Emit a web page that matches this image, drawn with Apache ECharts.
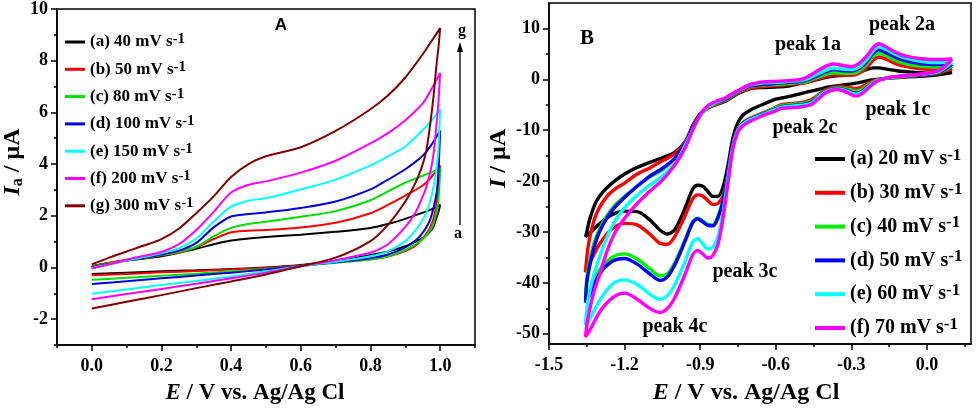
<!DOCTYPE html>
<html><head><meta charset="utf-8">
<script src="https://cdn.jsdelivr.net/npm/echarts@6/dist/echarts.min.js"></script>
<style>html,body{margin:0;padding:0;background:#fff}#c{width:980px;height:410px}</style>
</head><body><div id="c"></div>
<script>
// ---------- Panel A data ----------
const namesA = ['(a) 40 mV s-1','(b) 50 mV s-1','(c) 80 mV s-1','(d) 100 mV s-1','(e) 150 mV s-1','(f) 200 mV s-1','(g) 300 mV s-1'];
const colorsA = ['#000000','#ff0000','#00dd00','#0000dd','#00ffff','#ff00ff','#800000'];
const eUpA = [0, 0.05, 0.1, 0.15, 0.2, 0.25, 0.3, 0.35, 0.4, 0.45, 0.5, 0.6, 0.7, 0.8, 0.85, 0.9, 0.95, 0.975, 1.0];
const upA_a = [0.05,0.17,0.27,0.34,0.43,0.57,0.72,0.9,1.04,1.12,1.18,1.27,1.38,1.53,1.68,1.88,2.12,2.25,2.42];
const upA_b = [0.05,0.18,0.3,0.37,0.47,0.57,0.78,1.1,1.36,1.42,1.45,1.55,1.73,2.1,2.42,2.78,3.17,3.5,3.94];
const upA_c = [0.03,0.15,0.27,0.37,0.48,0.6,0.8,1.2,1.53,1.68,1.77,1.96,2.18,2.6,2.94,3.28,3.55,3.68,3.84];
const upA_d = [0.0,0.13,0.27,0.38,0.5,0.65,0.95,1.55,1.97,2.07,2.13,2.3,2.55,3.02,3.4,3.8,4.32,4.75,5.3];
const upA_e = [-0.02,0.12,0.27,0.4,0.55,0.75,1.12,1.78,2.35,2.58,2.68,3.02,3.4,3.95,4.3,4.68,5.32,5.68,6.13];
const upA_f = [-0.04,0.12,0.3,0.45,0.6,0.9,1.45,2.15,2.9,3.2,3.33,3.67,4.13,4.8,5.2,5.7,6.35,6.9,7.53];
const upA_g = [0.12,0.38,0.62,0.85,1.1,1.5,2.1,2.75,3.5,4.0,4.3,4.65,5.28,6.12,6.65,7.35,8.25,8.75,9.26];
const eLoA = [0.995, 0.99, 0.98, 0.97, 0.96, 0.95, 0.93, 0.9, 0.85, 0.8, 0.7, 0.6, 0.5, 0.4, 0.3, 0.2, 0.1, 0.0];
const loA_a = [2.15,1.95,1.55,1.38,1.25,1.15,1.0,0.82,0.62,0.48,0.25,0.1,0.0,-0.06,-0.11,-0.15,-0.2,-0.25];
const loA_b = [3.2,2.5,1.85,1.52,1.3,1.12,0.85,0.63,0.42,0.32,0.2,0.08,-0.02,-0.08,-0.14,-0.19,-0.25,-0.3];
const loA_c = [2.6,2.2,1.65,1.42,1.25,1.1,0.9,0.68,0.43,0.31,0.18,0.06,-0.06,-0.15,-0.24,-0.32,-0.4,-0.48];
const loA_d = [3.7,2.9,2.25,1.8,1.55,1.35,1.05,0.78,0.5,0.36,0.2,0.06,-0.08,-0.2,-0.31,-0.42,-0.53,-0.64];
const loA_e = [4.6,3.9,3.05,2.5,2.1,1.85,1.45,1.02,0.62,0.43,0.22,0.05,-0.15,-0.35,-0.52,-0.68,-0.85,-1.02];
const loA_f = [6.4,5.6,4.3,3.6,3.1,2.75,2.15,1.57,0.9,0.58,0.28,0.05,-0.2,-0.42,-0.63,-0.83,-1.03,-1.23];
const loA_g = [8.5,7.9,6.5,5.4,4.5,4.0,3.3,2.55,1.65,1.02,0.38,0.05,-0.27,-0.54,-0.8,-1.07,-1.33,-1.59];
const xTicksA = [0, 0.2, 0.4, 0.6, 0.8, 1.0];
const xMinorA = [-0.1, 0.1, 0.3, 0.5, 0.7, 0.9, 1.1];
const yTicksA = [-2, 0, 2, 4, 6, 8, 10];
const yMinorA = [-3, -1, 1, 3, 5, 7, 9];

// ---------- Panel B data ----------
const namesB = ['(a) 20 mV s-1','(b) 30 mV s-1','(c) 40 mV s-1','(d) 50 mV s-1','(e) 60 mV s-1','(f) 70 mV s-1'];
const colorsB = ['#000000','#ff0000','#00ee00','#0000ff','#00ffff','#ff00ff'];
const eCathB = [0.1,0.05,0,-0.05,-0.1,-0.15,-0.2,-0.23,-0.26,-0.28,-0.3,-0.33,-0.36,-0.4,-0.43,-0.46,-0.5,-0.55,-0.58,-0.6,-0.65,-0.7,-0.73,-0.75,-0.77,-0.79,-0.81,-0.83,-0.85,-0.87,-0.89,-0.91,-0.93,-0.96,-1.0,-1.03,-1.06,-1.1,-1.15,-1.2,-1.25,-1.3,-1.34,-1.355];
const cathB_a = [1.35,0.95,0.7,0.55,0.4,0.25,0.0,-0.2,-0.55,-0.75,-0.9,-1.1,-1.3,-1.6,-2.0,-2.3,-2.8,-3.4,-3.7,-3.9,-4.9,-6.0,-7.0,-8.5,-11.5,-17.0,-21.3,-23.0,-23.0,-22.0,-21.0,-20.8,-21.6,-25.3,-29.5,-30.4,-29.6,-27.6,-26.0,-25.9,-26.6,-28.4,-30.3,-30.9];
const cathB_b = [2.1,1.3,0.9,0.7,0.5,0.3,-0.1,-0.7,-1.5,-1.8,-1.7,-1.5,-1.5,-2.0,-3.0,-4.0,-4.6,-4.8,-5.0,-5.5,-6.6,-7.6,-8.5,-9.7,-13.0,-19.0,-23.0,-24.4,-24.6,-23.8,-22.9,-22.7,-23.5,-26.8,-30.8,-32.4,-32.2,-30.4,-28.6,-28.3,-29.4,-32.4,-36.3,-37.9];
const cathB_c = [2.6,1.4,1.0,0.75,0.55,0.3,-0.2,-1.0,-2.0,-2.3,-2.1,-1.8,-1.7,-2.2,-3.2,-4.3,-4.8,-5.0,-5.2,-5.6,-6.7,-7.7,-8.6,-9.8,-13.0,-18.5,-23.8,-27.0,-28.6,-28.5,-27.8,-27.3,-28.0,-31.5,-36.0,-38.2,-38.6,-37.2,-35.3,-34.3,-35.0,-37.5,-41.5,-42.8];
const cathB_d = [3.0,1.5,1.0,0.8,0.6,0.35,-0.3,-1.3,-2.4,-2.7,-2.5,-2.0,-1.8,-2.3,-3.4,-4.5,-5.0,-5.2,-5.4,-5.8,-6.8,-7.8,-8.7,-9.9,-13.0,-18.5,-24.0,-27.3,-28.8,-28.7,-28.0,-27.4,-28.2,-31.8,-36.4,-38.8,-39.5,-38.2,-36.3,-35.2,-35.8,-38.3,-42.5,-43.8];
const cathB_e = [3.4,1.6,1.1,0.85,0.6,0.35,-0.3,-1.4,-2.6,-2.9,-2.7,-2.1,-1.9,-2.4,-3.5,-4.7,-5.1,-5.3,-5.5,-5.9,-6.9,-7.9,-8.8,-10.0,-13.2,-19.5,-26.5,-31.0,-33.0,-33.3,-32.3,-31.3,-32.0,-35.8,-40.3,-42.5,-43.2,-42.2,-40.3,-39.4,-40.3,-43.5,-47.3,-48.3];
const cathB_f = [4.0,1.8,1.2,0.9,0.65,0.4,-0.4,-1.6,-2.9,-3.3,-3.0,-2.3,-2.0,-2.6,-3.8,-5.0,-5.4,-5.6,-5.7,-6.2,-7.1,-8.2,-9.1,-10.3,-13.6,-20.5,-27.5,-32.5,-34.6,-35.1,-34.3,-33.6,-34.5,-38.3,-42.8,-45.0,-45.8,-45.0,-43.2,-42.0,-43.0,-45.8,-49.5,-50.6];
const eAnB = [-1.35,-1.34,-1.32,-1.3,-1.27,-1.24,-1.2,-1.15,-1.1,-1.05,-1.0,-0.96,-0.93,-0.9,-0.87,-0.84,-0.8,-0.75,-0.7,-0.65,-0.6,-0.55,-0.5,-0.47,-0.44,-0.4,-0.37,-0.33,-0.3,-0.27,-0.24,-0.21,-0.19,-0.16,-0.12,-0.08,-0.03,0.03,0.1];
const anB_a = [-30.0,-27.8,-24.8,-23.0,-21.3,-20.0,-18.6,-17.3,-16.3,-15.4,-14.3,-12.3,-9.2,-6.8,-5.6,-5.0,-4.3,-2.8,-1.8,-1.6,-1.5,-1.3,-0.8,-0.5,-0.1,0.4,0.65,0.8,1.0,1.4,1.9,2.25,2.25,2.0,1.7,1.5,1.3,1.2,1.35];
const anB_b = [-35.0,-31.5,-27.5,-25.2,-23.0,-21.6,-20.4,-18.6,-17.4,-16.0,-14.6,-12.4,-9.5,-7.0,-5.7,-5.0,-4.2,-2.7,-1.7,-1.4,-1.2,-1.0,-0.8,-0.5,0.0,0.6,0.9,0.8,0.8,1.2,2.3,3.9,4.4,3.9,3.0,2.5,2.1,1.9,2.1];
const anB_c = [-39.0,-36.0,-32.0,-29.5,-26.8,-24.8,-23.0,-21.0,-19.2,-17.8,-15.6,-12.6,-9.6,-7.0,-5.5,-4.8,-4.0,-2.5,-1.4,-1.1,-1.0,-0.8,-0.6,-0.3,0.3,1.0,1.3,1.2,1.2,1.6,2.9,4.7,5.1,4.6,3.6,3.0,2.6,2.4,2.6];
const anB_d = [-40.0,-37.0,-32.8,-30.0,-27.2,-25.2,-23.2,-21.0,-19.0,-17.5,-15.5,-12.6,-9.6,-7.0,-5.4,-4.7,-3.9,-2.4,-1.3,-1.0,-0.8,-0.6,-0.4,0.0,0.6,1.5,1.9,1.7,1.6,2.1,3.4,5.3,5.8,5.2,4.2,3.6,3.1,2.9,3.0];
const anB_e = [-45.0,-42.0,-38.0,-35.0,-31.0,-28.0,-25.2,-22.8,-20.8,-19.0,-16.6,-13.0,-10.0,-7.2,-5.4,-4.6,-3.7,-2.3,-1.1,-0.7,-0.6,-0.4,-0.2,0.2,0.9,1.8,2.2,2.0,1.9,2.4,3.8,5.8,6.4,5.8,4.8,4.1,3.6,3.3,3.4];
const anB_f = [-48.3,-45.5,-41.5,-38.5,-33.8,-30.3,-27.3,-24.4,-22.0,-19.8,-16.8,-13.5,-10.0,-7.0,-5.2,-4.4,-3.6,-2.2,-1.0,-0.5,-0.4,-0.25,0.0,0.6,1.5,2.6,3.0,2.7,2.5,3.1,4.5,6.4,7.0,6.3,5.2,4.5,4.1,3.9,4.0];
const xTicksB = [-1.5, -1.2, -0.9, -0.6, -0.3, 0.0];
const xMinorB = [-1.35, -1.05, -0.75, -0.45, -0.15, 0.15];
const yTicksB = [-50, -40, -30, -20, -10, 0, 10];
const yMinorB = [-45, -35, -25, -15, -5, 5];
const peakLabels = ['peak 2a','peak 1a','peak 1c','peak 2c','peak 3c','peak 4c'];

// ---------- build ----------
const FONT = "'Liberation Serif','Times New Roman',serif";
function loop(e1, v1, e2, v2) {
  return e1.map((e, i) => [e, v1[i]]).concat(e2.map((e, i) => [e, v2[i]]));
}
const upA = [upA_a, upA_b, upA_c, upA_d, upA_e, upA_f, upA_g];
const loA = [loA_a, loA_b, loA_c, loA_d, loA_e, loA_f, loA_g];
const cathB = [cathB_a, cathB_b, cathB_c, cathB_d, cathB_e, cathB_f];
const anB = [anB_a, anB_b, anB_c, anB_d, anB_e, anB_f];

const series = [];
namesA.forEach((n, i) => series.push({
  name: n, type: 'line', xAxisIndex: 0, yAxisIndex: 0, showSymbol: false, symbol: 'none',
  smooth: 0.3, color: colorsA[i], lineStyle: { width: 2, color: colorsA[i] },
  data: loop(eUpA, upA[i], eLoA, loA[i])
}));
namesB.forEach((n, i) => series.push({
  name: n, type: 'line', xAxisIndex: 2, yAxisIndex: 2, showSymbol: false, symbol: 'none',
  smooth: 0.3, color: colorsB[i], lineStyle: { width: 3.4, color: colorsB[i] },
  data: loop(eCathB, cathB[i], eAnB, anB[i])
}));

const lblStyle = { color: '#000', fontFamily: FONT, fontWeight: 'bold', fontSize: 18 };
function mainX(grid, min, max, ticks, name, pad, fs) {
  return { gridIndex: grid, type: 'value', min: min, max: max, position: 'bottom',
    axisLine: { onZero: false, lineStyle: { color: '#000', width: 1.5 } },
    axisTick: { customValues: ticks, length: 6, lineStyle: { color: '#000', width: 1.5 } },
    axisLabel: Object.assign({ customValues: ticks, margin: 12, formatter: v => Number(v).toFixed(1) }, lblStyle),
    splitLine: { show: false },
    name: name, nameLocation: 'middle', nameGap: 37,
    nameTextStyle: { padding: pad, rich: {
      i: { fontFamily: FONT, fontWeight: 'bold', fontStyle: 'italic', fontSize: fs, color: '#000' },
      n: { fontFamily: FONT, fontWeight: 'bold', fontSize: fs, color: '#000' } } }
  };
}
function minorX(grid, min, max, ticks) {
  return { gridIndex: grid, type: 'value', min: min, max: max, position: 'bottom',
    axisLine: { show: false, onZero: false }, axisLabel: { show: false }, splitLine: { show: false },
    axisTick: { customValues: ticks, length: 3, lineStyle: { color: '#000', width: 1.5 } } };
}
function mainY(grid, min, max, ticks, name, gap, pad) {
  return { gridIndex: grid, type: 'value', min: min, max: max, position: 'left',
    axisLine: { onZero: false, lineStyle: { color: '#000', width: 1.5 } },
    axisTick: { customValues: ticks, length: 6, lineStyle: { color: '#000', width: 1.5 } },
    axisLabel: Object.assign({ customValues: ticks, margin: 9, formatter: v => String(Math.round(v)) }, lblStyle),
    splitLine: { show: false },
    name: name, nameLocation: 'middle', nameRotate: 90, nameGap: gap,
    nameTextStyle: { padding: pad, rich: {
      i: { fontFamily: FONT, fontWeight: 'bold', fontStyle: 'italic', fontSize: 24, color: '#000', lineHeight: 26 },
      sub: { fontFamily: FONT, fontWeight: 'bold', fontSize: 16, color: '#000', lineHeight: 10, verticalAlign: 'bottom' },
      n: { fontFamily: FONT, fontWeight: 'bold', fontSize: 24, color: '#000', lineHeight: 26 } } }
  };
}
function minorY(grid, min, max, ticks) {
  return { gridIndex: grid, type: 'value', min: min, max: max, position: 'left',
    axisLine: { show: false, onZero: false }, axisLabel: { show: false }, splitLine: { show: false },
    axisTick: { customValues: ticks, length: 3, lineStyle: { color: '#000', width: 1.5 } } };
}
function legendFmt(name) {
  const base = name.replace(/-1$/, '');
  return '{n|' + base + '}{s|-1}';
}

const option = {
  animation: false,
  backgroundColor: '#fff',
  grid: [
    { left: 53, top: 7, width: 422, height: 341, show: true, borderColor: '#000', borderWidth: 1.5 },
    { left: 549, top: 3, width: 422, height: 344, show: true, borderColor: '#000', borderWidth: 1.5 }
  ],
  xAxis: [
    mainX(0, -0.1, 1.1, xTicksA, '{i|E}{n| / V vs. Ag/Ag Cl}', [0, 22, 0, 0], 23),
    minorX(0, -0.1, 1.1, xMinorA),
    mainX(1, -1.5, 0.175, xTicksB, '{i|E}{n| / V vs. Ag/Ag Cl}', [0, 28, 0, 0], 24),
    minorX(1, -1.5, 0.175, xMinorB)
  ],
  yAxis: [
    mainY(0, -3, 10, yTicksA, '{i|I}{sub|a}{n| / μA}', 29, [0, 0, 0, 30]),
    minorY(0, -3, 10, yMinorA),
    mainY(1, -52, 15, yTicksB, '{i|I}{n| / μA}', 37, [0, 0, 0, 30]),
    minorY(1, -52, 15, yMinorB)
  ],
  legend: [
    { data: namesA, orient: 'vertical', left: 65, top: 32, padding: 0, itemWidth: 20, itemHeight: 3, icon: 'rect',
      itemGap: 8.8, formatter: legendFmt,
      textStyle: { rich: {
        n: { fontFamily: FONT, fontWeight: 'bold', fontSize: 17, color: '#000', lineHeight: 20 },
        s: { fontFamily: FONT, fontWeight: 'bold', fontSize: 15, color: '#000', lineHeight: 6, verticalAlign: 'top' } } } },
    { data: namesB, orient: 'vertical', left: 815, top: 147, padding: 0, itemWidth: 30, itemHeight: 4, icon: 'rect',
      itemGap: 11.8, formatter: legendFmt,
      textStyle: { rich: {
        n: { fontFamily: FONT, fontWeight: 'bold', fontSize: 20, color: '#000', lineHeight: 24 },
        s: { fontFamily: FONT, fontWeight: 'bold', fontSize: 17, color: '#000', lineHeight: 8, verticalAlign: 'top' } } } }
  ],
  graphic: [
    { type: 'text', x: 281, y: 25, style: { text: 'A', font: "bold 17px 'Liberation Sans', Arial, sans-serif", fill: '#000', align: 'center', verticalAlign: 'middle' } },
    { type: 'text', x: 587, y: 39, style: { text: 'B', font: 'bold 21px ' + FONT, fill: '#000', align: 'center', verticalAlign: 'middle' } },
    { type: 'text', x: 462, y: 31, style: { text: 'g', font: 'bold 16px ' + FONT, fill: '#000', align: 'center', verticalAlign: 'middle' } },
    { type: 'text', x: 458, y: 234, style: { text: 'a', font: 'bold 16px ' + FONT, fill: '#000', align: 'center', verticalAlign: 'middle' } },
    { type: 'line', shape: { x1: 460, y1: 225, x2: 460, y2: 50 }, style: { stroke: '#000', lineWidth: 1.3 } },
    { type: 'polygon', shape: { points: [[460, 42], [457, 52], [463, 52]] }, style: { fill: '#000' } },
    { type: 'text', x: 902, y: 25, style: { text: peakLabels[0], font: 'bold 20px ' + FONT, fill: '#000', align: 'center', verticalAlign: 'middle' } },
    { type: 'text', x: 808, y: 45, style: { text: peakLabels[1], font: 'bold 20px ' + FONT, fill: '#000', align: 'center', verticalAlign: 'middle' } },
    { type: 'text', x: 898, y: 110, style: { text: peakLabels[2], font: 'bold 20px ' + FONT, fill: '#000', align: 'center', verticalAlign: 'middle' } },
    { type: 'text', x: 805, y: 128, style: { text: peakLabels[3], font: 'bold 20px ' + FONT, fill: '#000', align: 'center', verticalAlign: 'middle' } },
    { type: 'text', x: 745, y: 272, style: { text: peakLabels[4], font: 'bold 20px ' + FONT, fill: '#000', align: 'center', verticalAlign: 'middle' } },
    { type: 'text', x: 675, y: 327, style: { text: peakLabels[5], font: 'bold 20px ' + FONT, fill: '#000', align: 'center', verticalAlign: 'middle' } }
  ],
  series: series
};
const chart = echarts.init(document.getElementById('c'), null, { renderer: 'canvas' });
chart.setOption(option);
</script></body></html>
